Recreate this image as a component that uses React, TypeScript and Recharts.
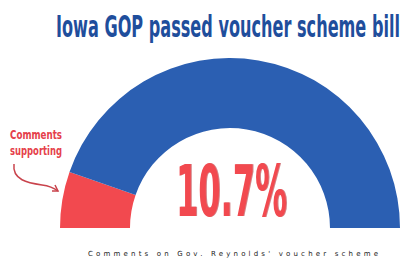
import React from "react";
import { PieChart, Pie, Cell } from "recharts";

const categories = ["Comments supporting", "Other comments"];
const shares = [10.7, 89.3];
const colors = ["#f2494f", "#2b5fb2"];
const title = "Iowa GOP passed voucher scheme bill";
const centerLabel = "10.7%";
const calloutLines = ["Comments", "supporting"];
const caption = "Comments on Gov. Reynolds' voucher scheme";

const data = categories.map((name, i) => ({ name, value: shares[i] }));

const narrow = "'Liberation Sans Narrow', 'DejaVu Sans Condensed', 'Roboto', sans-serif";

export default function App() {
  return (
    <div style={{ position: "absolute", left: 0, top: 0, width: 408, height: 263, background: "#fff", overflow: "hidden" }}>
      <PieChart width={408} height={263} margin={{ top: 0, right: 0, bottom: 0, left: 0 }}>
        <Pie
          data={data}
          dataKey="value"
          nameKey="name"
          cx={230}
          cy={228}
          startAngle={180}
          endAngle={0}
          innerRadius={100}
          outerRadius={170}
          stroke="none"
          isAnimationActive={false}
        >
          {data.map((d, i) => (
            <Cell key={d.name} fill={colors[i]} />
          ))}
        </Pie>
      </PieChart>
      <svg width={408} height={263} style={{ position: "absolute", left: 0, top: 0 }}>
        <text
          x={56}
          y={37}
          textLength={344}
          lengthAdjust="spacingAndGlyphs"
          fontFamily={narrow}
          fontWeight="bold"
          fontSize={30}
          fill="#1f4e9c"
        >
          {title}
        </text>
        <text
          x={177}
          y={216}
          textLength={111}
          lengthAdjust="spacingAndGlyphs"
          fontFamily={narrow}
          fontWeight="bold"
          fontSize={72}
          fill="#b8343a"
          opacity={0.6}
        >
          {centerLabel}
        </text>
        <text
          x={176}
          y={216}
          textLength={111}
          lengthAdjust="spacingAndGlyphs"
          fontFamily={narrow}
          fontWeight="bold"
          fontSize={72}
          fill="#f2494f"
        >
          {centerLabel}
        </text>
        {calloutLines.map((line, i) => (
          <text
            key={line}
            x={10}
            y={139 + i * 16}
            textLength={52}
            lengthAdjust="spacingAndGlyphs"
            fontFamily={narrow}
            fontWeight="bold"
            fontSize={13}
            fill="#e5404a"
          >
            {line}
          </text>
        ))}
        <path
          d="M14,164 C12,180 28,183 42,185 C50,186 54,188 58,191"
          fill="none"
          stroke="#c9434c"
          strokeWidth={1.5}
        />
        <path d="M52,191 L58,191 L55,185" fill="none" stroke="#c9434c" strokeWidth={1.5} />
        <text
          x={88}
          y={256}
          textLength={290}
          lengthAdjust="spacing"
          fontFamily="'DejaVu Sans', sans-serif"
          fontSize={7}
          fill="#222"
        >
          {caption}
        </text>
      </svg>
    </div>
  );
}
